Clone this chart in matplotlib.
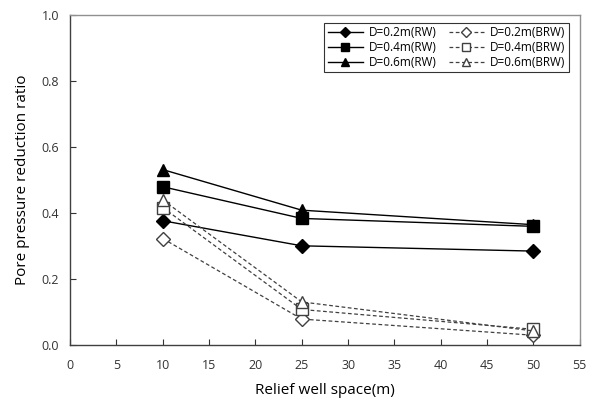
import matplotlib
matplotlib.use('Agg')
import matplotlib.pyplot as plt
from matplotlib.ticker import FormatStrFormatter

plt.rcParams['font.family'] = ['Open Sans', 'DejaVu Sans']

# ── Data ──────────────────────────────────────────────────────────────────────
spacing = [10, 25, 50]

rw_02  = [0.377, 0.301, 0.285]
rw_04  = [0.480, 0.384, 0.360]
rw_06  = [0.532, 0.409, 0.365]
brw_02 = [0.323, 0.079, 0.030]
brw_04 = [0.417, 0.108, 0.048]
brw_06 = [0.440, 0.131, 0.043]

labels = ['D=0.2m(RW)', 'D=0.4m(RW)', 'D=0.6m(RW)',
          'D=0.2m(BRW)', 'D=0.4m(BRW)', 'D=0.6m(BRW)']

# ── Plot ──────────────────────────────────────────────────────────────────────
fig = plt.figure(figsize=(5.94, 3.99), dpi=100)
ax = fig.add_axes([0.118, 0.135, 0.858, 0.827])

solid = dict(color='black', lw=1.0, ls='-')
dash  = dict(color='#404040', lw=0.9, ls=(0, (3, 2)), mfc='white', mec='#404040')

ax.plot(spacing, rw_02, marker='D', ms=7, mfc='black', mec='black', label=labels[0], **solid)
ax.plot(spacing, rw_04, marker='s', ms=9, mfc='black', mec='black', label=labels[1], **solid)
ax.plot(spacing, rw_06, marker='^', ms=9, mfc='black', mec='black', label=labels[2], **solid)
ax.plot(spacing, brw_02, marker='D', ms=7, label=labels[3], **dash)
ax.plot(spacing, brw_04, marker='s', ms=9, label=labels[4], **dash)
ax.plot(spacing, brw_06, marker='^', ms=9, label=labels[5], **dash)

ax.set_xlim(0, 55)
ax.set_ylim(0, 1.0)
ax.set_xticks(range(0, 56, 5))
ax.set_yticks([0, 0.2, 0.4, 0.6, 0.8, 1.0])
ax.yaxis.set_major_formatter(FormatStrFormatter('%.1f'))
ax.tick_params(direction='in', length=4, labelsize=9, colors='#333333', pad=8)
ax.tick_params(axis='x', pad=10)

for side in ['left', 'bottom']:
    ax.spines[side].set_color('#404040')
for side in ['top', 'right']:
    ax.spines[side].set_color('#909090')
for s in ax.spines.values():
    s.set_linewidth(1.0)

ax.set_xlabel('Relief well space(m)', fontsize=11, labelpad=8)
ax.set_ylabel('Pore pressure reduction ratio', fontsize=11, labelpad=8)

leg = ax.legend(ncol=2, loc='upper right', fontsize=8.5, frameon=True, fancybox=False,
                edgecolor='black', handlelength=3.0, labelspacing=0.15,
                columnspacing=1.0, borderpad=0.3, handletextpad=0.5,
                bbox_to_anchor=(0.99, 0.995), markerscale=0.7)
leg.get_frame().set_linewidth(0.8)

fig.savefig('out.png', dpi=100)
